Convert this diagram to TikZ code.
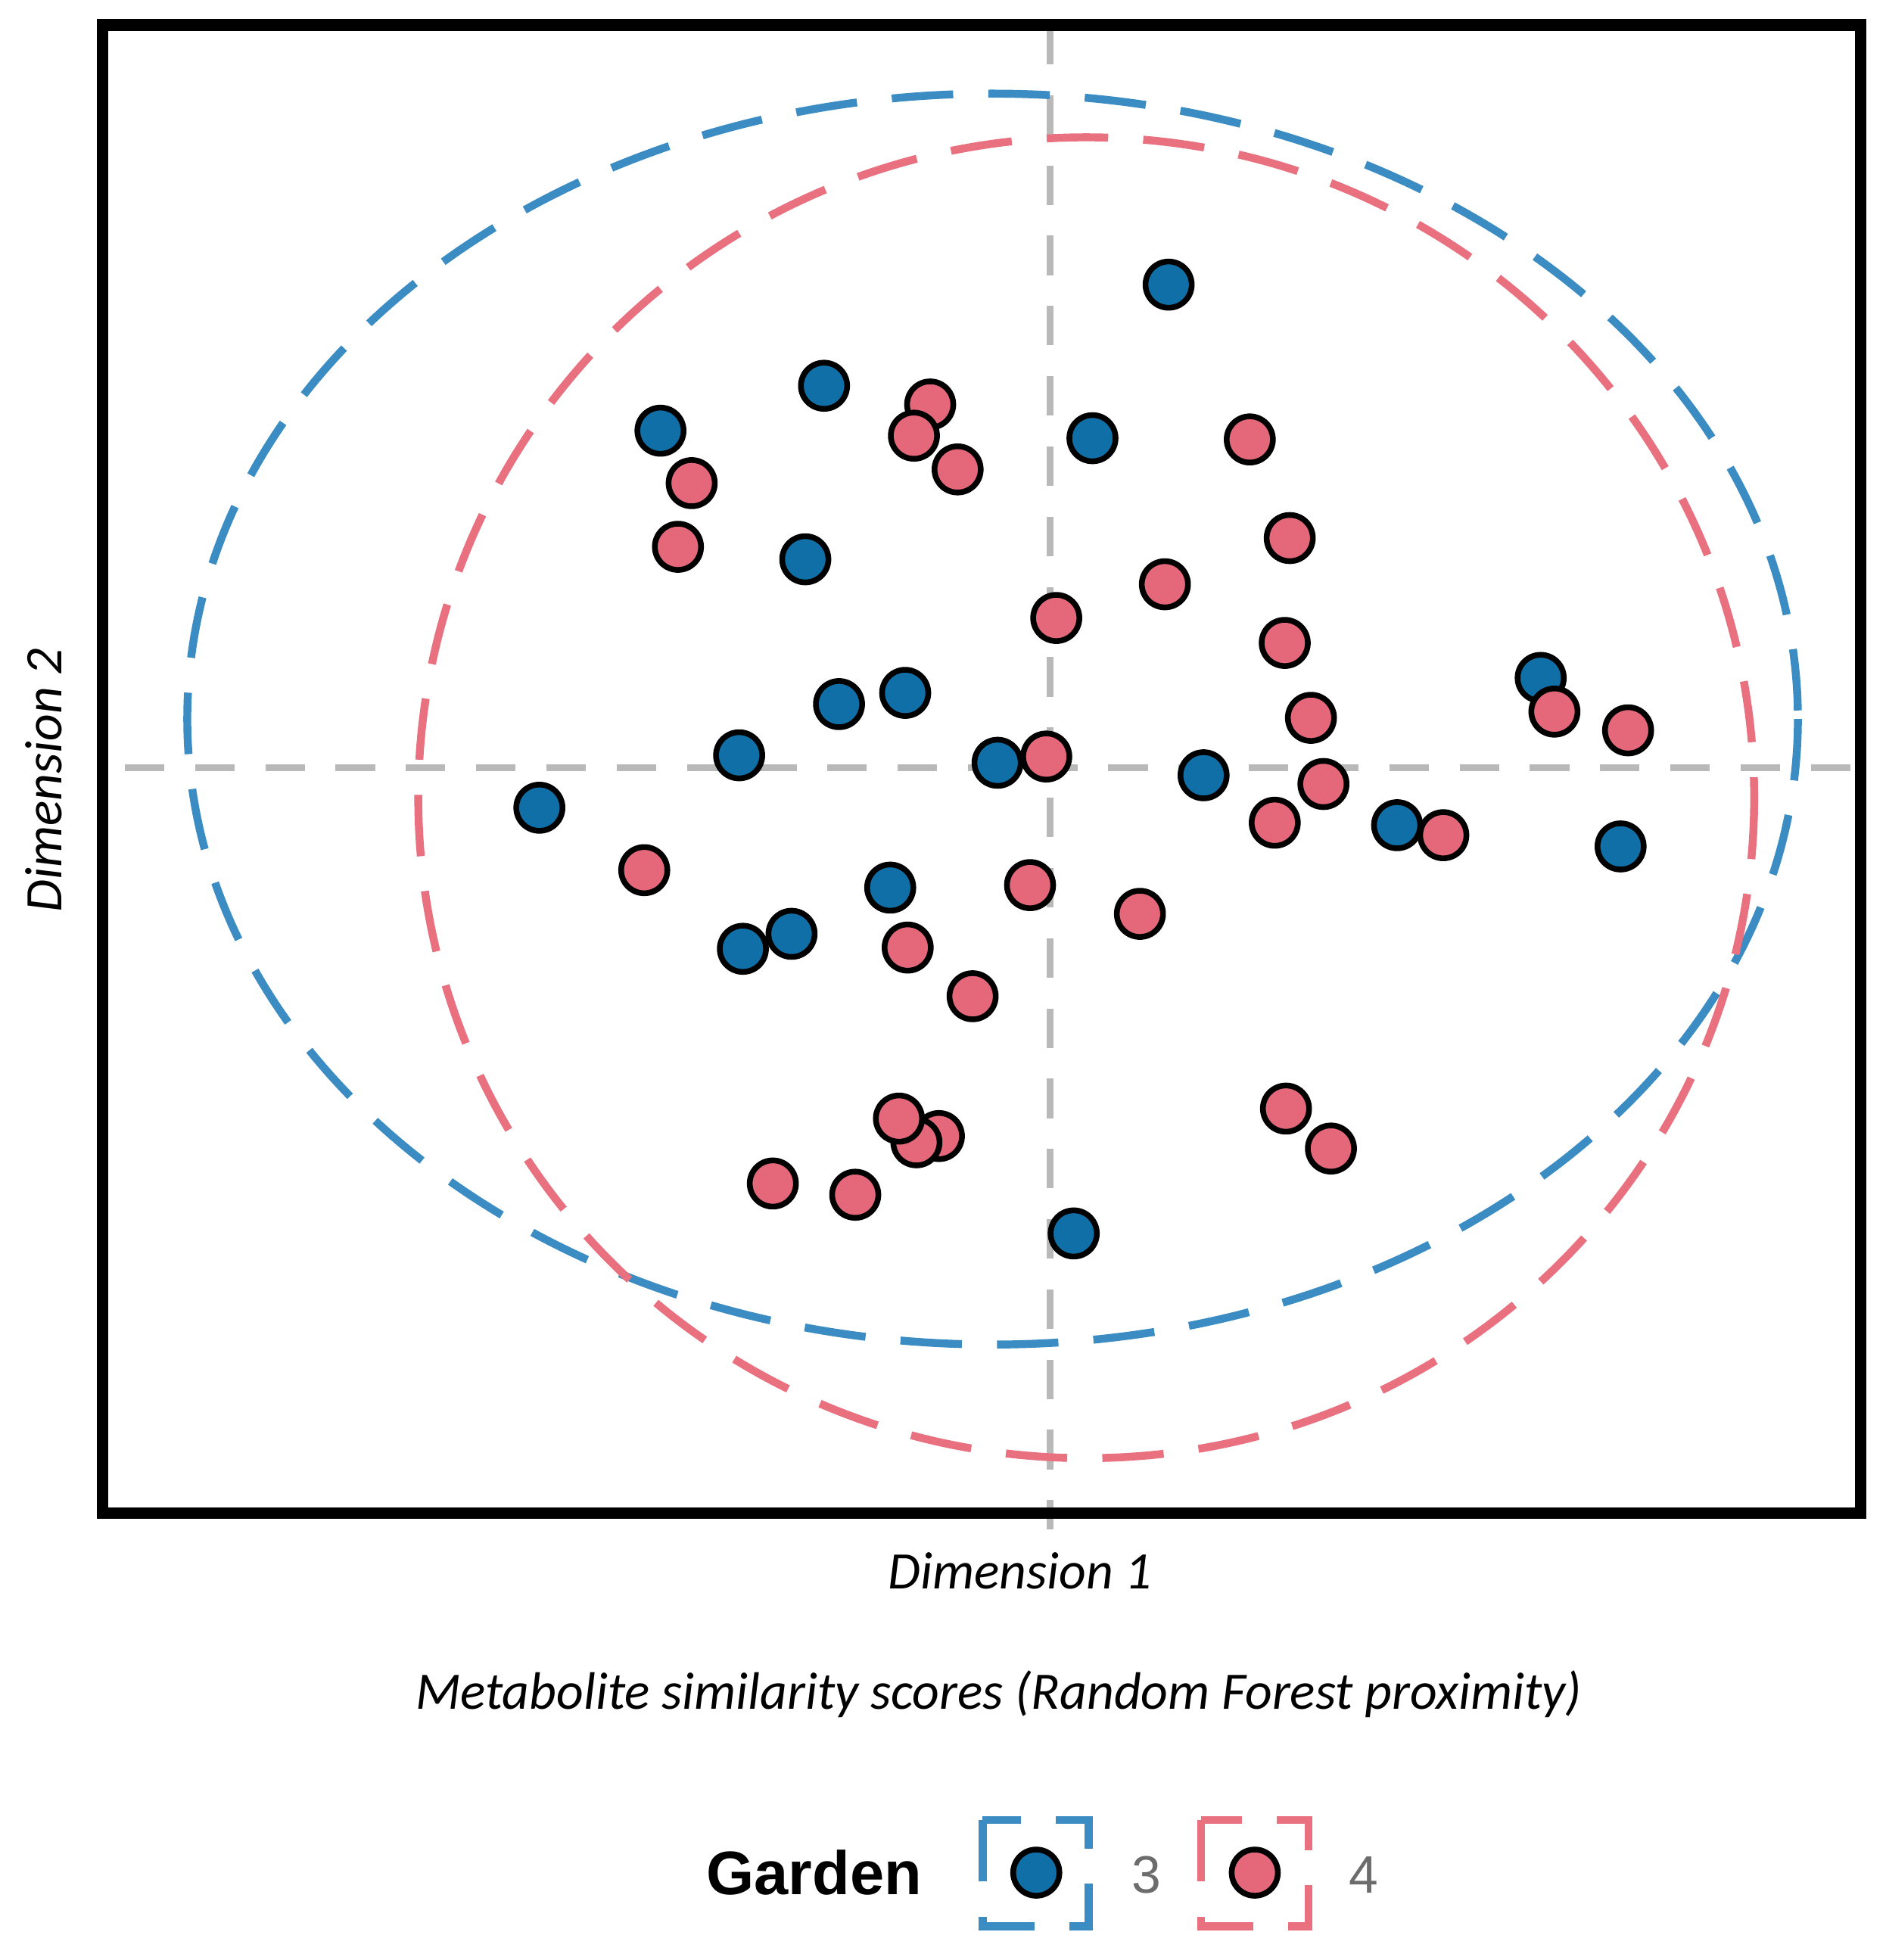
\documentclass[tikz,border=0pt]{standalone}
\usepackage{fontspec}
\setmainfont{Carlito}
\newfontfamily\legfont{Liberation Sans}
\begin{document}
\begin{tikzpicture}[x=0.01cm,y=-0.01cm,
 bdot/.style={circle,draw=black,line width=1.3pt,fill=dotblue,minimum size=0.37cm,inner sep=0pt},
 rdot/.style={circle,draw=black,line width=1.3pt,fill=dotred,minimum size=0.37cm,inner sep=0pt},
 gline/.style={draw=gray!55,line width=1.6pt,dash pattern=on 9pt off 7pt},
 bell/.style={draw=ellblue,line width=1.8pt,dash pattern=on 14pt off 8pt},
 rell/.style={draw=ellred,line width=1.8pt,dash pattern=on 14pt off 8pt},
 lab/.style={font=\itshape\fontsize{12}{14}\selectfont}]
\definecolor{dotblue}{HTML}{0F6FA6}
\definecolor{dotred}{HTML}{E5677A}
\definecolor{ellblue}{HTML}{3A8CC2}
\definecolor{ellred}{HTML}{E8707F}
\useasboundingbox (0,0) rectangle (1510,1570);
\draw[gline] (841,20) -- (841,1225);
\draw[gline] (100,615) -- (1505,615);
\draw[bell] (795,576) ellipse [x radius=645,y radius=501];
\draw[rell] (870,639) ellipse [x radius=535,y radius=529];
\draw[line width=2.6pt] (82,20) rectangle (1490,1212);
\foreach \x/\y [count=\i] in {936/228,660/309,529/345,875/351,645/448,1234/543,725/555,672/564,592/605,799/611,964/621,432/647,1119/661,1298/678,713/711,634/748,595/760,860/988}
  \node[bdot] (b\i) at (\x,\y) {};
\foreach \x/\y [count=\i] in {745/324,732/349,767/376,1001/352,554/387,543/438,1033/431,933/468,846/495,1029/515,1245/570,1050/575,1304/585,838/606,1060/628,1021/659,1156/669,516/697,825/709,913/732,727/759,779/798,1030/888,1066/920,752/910,734/915,720/896,619/948,685/957}
  \node[rdot] (r\i) at (\x,\y) {};
\node[lab] (d1) at (817,1258) {Dimension 1};
\node[lab,rotate=90] (d2) at (35,625) {Dimension 2};
\node[lab] (ttl) at (800,1357) {Metabolite similarity scores (Random Forest proximity)};
\node[font=\legfont\bfseries\fontsize{14}{16}\selectfont] (gd) at (652,1500) {Garden};
\draw[bell] (787,1458) rectangle (872,1543);
\draw[rell] (962,1458) rectangle (1048,1543);
\node[bdot] (lb) at (830,1500) {};
\node[rdot] (lr) at (1005,1500) {};
\node[font=\legfont\fontsize{12}{14}\selectfont,text=gray!85!black] (l3) at (918,1502) {3};
\node[font=\legfont\fontsize{12}{14}\selectfont,text=gray!85!black] (l4) at (1092,1502) {4};
\end{tikzpicture}
\end{document}
